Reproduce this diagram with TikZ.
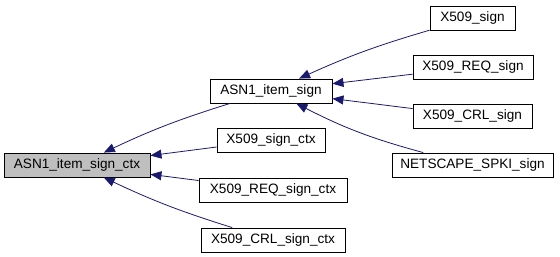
\documentclass[tikz,border=0pt]{standalone}
\usepackage{fontspec}
\setmainfont{Liberation Sans}
\usetikzlibrary{arrows.meta}
\definecolor{edgeblue}{HTML}{191970}
\definecolor{curfill}{HTML}{BFBFBF}
\begin{document}
\begin{tikzpicture}[x=1pt,y=-1pt,
  fn/.style={draw=black, line width=0.9pt, fill=white, inner sep=0pt,
    minimum height=24pt, font=\fontsize{13.6}{16}\selectfont},
  cur/.style={fn, fill=curfill},
  call/.style={draw=edgeblue, line width=0.8pt,
    {Triangle[length=11pt,width=9pt,fill=edgeblue]}-}]
\useasboundingbox (0,0) rectangle (560,257);
% functions
\node[cur, minimum width=146pt] (ctx) at (77,165) {ASN1\_item\_sign\_ctx};
\node[fn, minimum width=122pt] (ais) at (271,91) {ASN1\_item\_sign};
\node[fn, minimum width=108pt] (xsc) at (271,140) {X509\_sign\_ctx};
\node[fn, minimum width=148pt] (xrsc) at (273,190) {X509\_REQ\_sign\_ctx};
\node[fn, minimum width=144pt] (xcsc) at (273,240) {X509\_CRL\_sign\_ctx};
\node[fn, minimum width=85pt] (xs) at (472.5,18) {X509\_sign};
\node[fn, minimum width=120pt] (xrs) at (473,67) {X509\_REQ\_sign};
\node[fn, minimum width=119pt] (xcs) at (472.5,116) {X509\_CRL\_sign};
\node[fn, minimum width=161pt] (nss) at (472.5,165) {NETSCAPE\_SPKI\_sign};
% callers of ASN1_item_sign_ctx
\draw[call] (ctx) to[bend left=4] (ais);
\draw[call] (ctx) -- (xsc);
\draw[call] (ctx) -- (xrsc);
\draw[call] (ctx) to[bend right=4] (xcsc);
% callers of ASN1_item_sign
\draw[call] (ais) to[bend left=4] (xs);
\draw[call] (ais) -- (xrs);
\draw[call] (ais) -- (xcs);
\draw[call] (ais) to[bend right=6] (nss);
\end{tikzpicture}
\end{document}
